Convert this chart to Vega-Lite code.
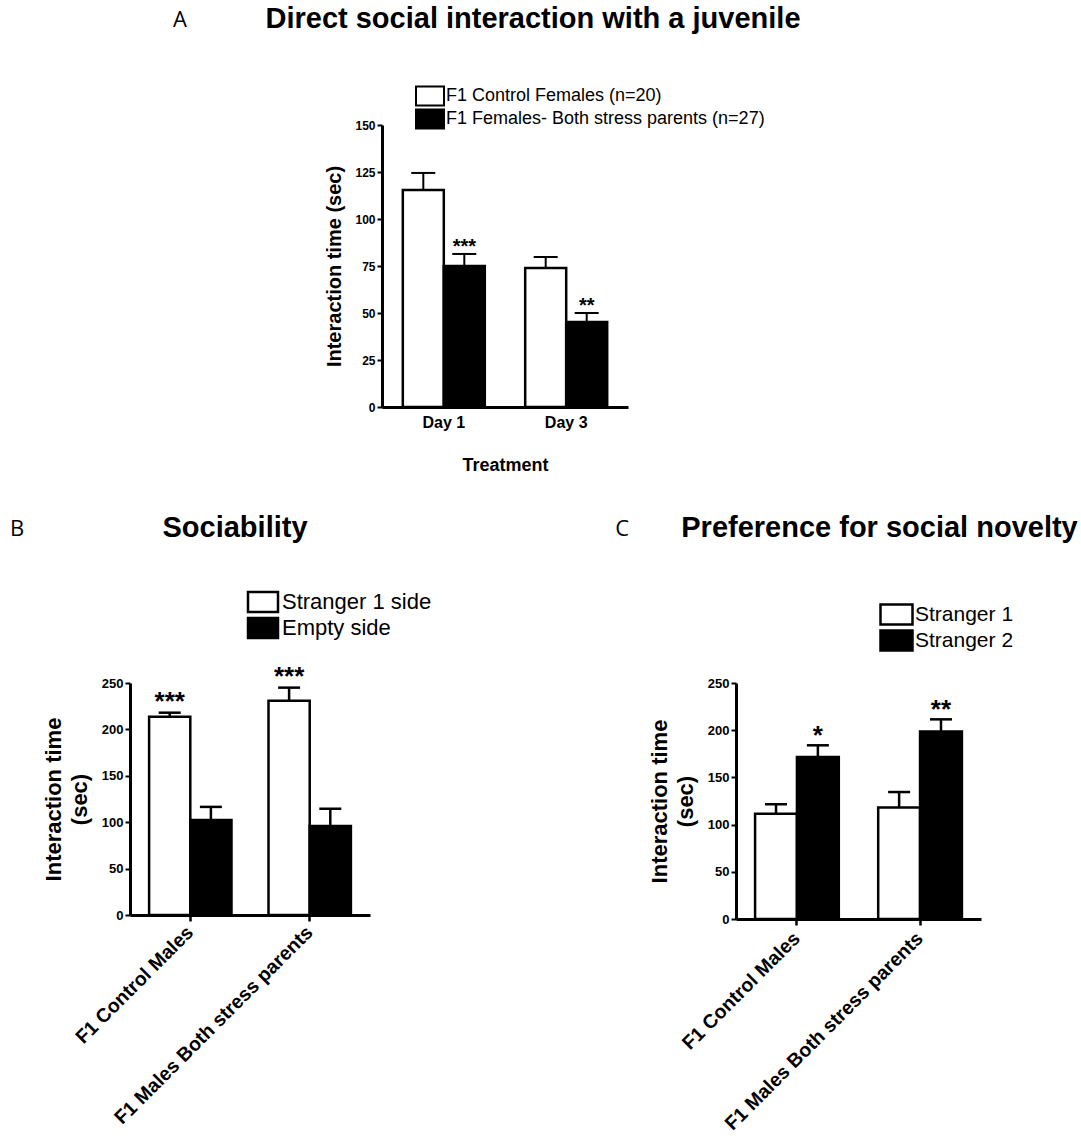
{
  "$schema": "https://vega.github.io/schema/vega-lite/v6.json",
  "padding": {"left": 10, "top": 5, "right": 0, "bottom": 0},
  "background": "white",
  "config": {
    "view": {"stroke": null},
    "font": "Liberation Sans",
    "axis": {"domainColor": "black", "tickColor": "black", "labelColor": "black", "titleColor": "black", "grid": false, "domainWidth": 3, "tickWidth": 2, "labelFontWeight": "bold", "titleFontWeight": "bold"},
    "legend": {"labelColor": "black", "labelFont": "Liberation Sans"},
    "title": {"color": "black"}
  },
  "datasets": {
    "A": [
      {"day": "Day 1", "grp": "F1 Control Females (n=20)", "mean": 115.4, "upper": 124.5, "sig": ""},
      {"day": "Day 1", "grp": "F1 Females- Both stress parents (n=27)", "mean": 75, "upper": 81.4, "sig": "***"},
      {"day": "Day 3", "grp": "F1 Control Females (n=20)", "mean": 74, "upper": 79.8, "sig": ""},
      {"day": "Day 3", "grp": "F1 Females- Both stress parents (n=27)", "mean": 45.2, "upper": 50, "sig": "**"}
    ],
    "B": [
      {"group": "F1 Control Males", "side": "Stranger 1 side", "mean": 213.5, "upper": 218, "sig": "***"},
      {"group": "F1 Control Males", "side": "Empty side", "mean": 102.5, "upper": 116.5, "sig": ""},
      {"group": "F1 Males Both stress parents", "side": "Stranger 1 side", "mean": 231, "upper": 245, "sig": "***"},
      {"group": "F1 Males Both stress parents", "side": "Empty side", "mean": 96, "upper": 114.5, "sig": ""}
    ],
    "C": [
      {"group": "F1 Control Males", "stranger": "Stranger 1", "mean": 111.6, "upper": 121.5, "sig": ""},
      {"group": "F1 Control Males", "stranger": "Stranger 2", "mean": 171.5, "upper": 184, "sig": "*"},
      {"group": "F1 Males Both stress parents", "stranger": "Stranger 1", "mean": 118, "upper": 134.5, "sig": ""},
      {"group": "F1 Males Both stress parents", "stranger": "Stranger 2", "mean": 198.5, "upper": 211.5, "sig": "**"}
    ]
  },
  "spacing": 40,
  "resolve": {"scale": {"color": "independent", "xOffset": "independent"}, "legend": {"color": "independent"}},
  "vconcat": [
    {
      "spacing": 0,
      "resolve": {"scale": {"color": "independent", "xOffset": "independent"}, "legend": {"color": "independent"}},
      "hconcat": [
        {
          "width": 255, "height": 1,
          "title": {"text": "A", "anchor": "end", "frame": "group", "dx": -78, "font": "Open Sans", "fontSize": 22, "fontWeight": "normal", "offset": 88},
          "data": {"values": [{}]},
          "mark": {"type": "text"},
          "encoding": {"text": {"value": ""}}
        },
        {
          "width": 246, "height": 282,
          "title": {"text": "Direct social interaction with a juvenile", "fontSize": 29, "fontWeight": "bold", "font": "Liberation Sans", "anchor": "middle", "frame": "group", "dx": 28, "offset": 53},
          "data": {"name": "A"},
          "encoding": {
            "x": {"field": "day", "type": "nominal", "sort": ["Day 1", "Day 3"], "scale": {"paddingInner": 0.33, "paddingOuter": 0.17},
                  "axis": {"title": "Treatment", "labelAngle": 0, "ticks": false, "labelFontSize": 16, "titleFontSize": 18, "labelPadding": 7, "titlePadding": 26}},
            "xOffset": {"field": "grp", "type": "nominal", "sort": ["F1 Control Females (n=20)", "F1 Females- Both stress parents (n=27)"], "scale": {"paddingInner": 0, "paddingOuter": 0}},
            "y": {"field": "mean", "type": "quantitative", "scale": {"domain": [0, 150], "nice": false},
                  "axis": {"title": "Interaction time (sec)", "values": [0, 25, 50, 75, 100, 125, 150], "titleFontSize": 20, "labelFontSize": 12, "tickSize": 5, "titlePadding": 10}}
          },
          "layer": [
            {
              "mark": {"type": "bar", "stroke": "black", "strokeWidth": 2.5},
              "encoding": {
                "color": {"field": "grp", "type": "nominal", "scale": {"domain": ["F1 Control Females (n=20)", "F1 Females- Both stress parents (n=27)"], "range": ["white", "black"]},
                  "legend": {"title": null, "orient": "none", "legendX": 39, "legendY": -38, "labelFontSize": 18, "symbolType": "M-2.8,-1.9H2.8V1.9H-2.8Z", "symbolSize": 100, "symbolStrokeColor": "black", "symbolStrokeWidth": 2, "rowPadding": -6, "labelOffset": 7, "labelLimit": 0}}
              }
            },
            {"mark": {"type": "rule", "strokeWidth": 2, "color": "black"}, "encoding": {"y2": {"field": "upper"}}},
            {"mark": {"type": "tick", "orient": "horizontal", "size": 24, "thickness": 2, "color": "black", "opacity": 1}, "encoding": {"y": {"field": "upper", "type": "quantitative"}}},
            {"mark": {"type": "text", "baseline": "alphabetic", "fontSize": 20, "fontWeight": "bold", "color": "black", "dy": -1}, "encoding": {"y": {"field": "upper", "type": "quantitative"}, "text": {"field": "sig"}}}
          ]
        }
      ]
    },
    {
      "spacing": 0,
      "resolve": {"scale": {"color": "independent", "xOffset": "independent"}, "legend": {"color": "independent"}},
      "hconcat": [
        {
          "width": 32, "height": 1,
          "title": {"text": "B", "anchor": "start", "frame": "group", "font": "Open Sans", "fontSize": 22, "fontWeight": "normal", "offset": 137},
          "data": {"values": [{}]},
          "mark": {"type": "text"},
          "encoding": {"text": {"value": ""}}
        },
        {
          "width": 240, "height": 232,
          "title": {"text": "Sociability", "fontSize": 29, "fontWeight": "bold", "font": "Liberation Sans", "anchor": "middle", "frame": "group", "dx": -15, "offset": 48},
          "data": {"name": "B"},
          "encoding": {
            "x": {"field": "group", "type": "nominal", "sort": ["F1 Control Males", "F1 Males Both stress parents"], "scale": {"paddingInner": 0.31, "paddingOuter": 0.16},
                  "axis": {"title": null, "labelAngle": -45, "labelAlign": "right", "labelBaseline": "middle", "labelFontSize": 19.5, "tickSize": 6, "tickWidth": 2.5, "labelPadding": 8, "labelLimit": 0}},
            "xOffset": {"field": "side", "type": "nominal", "sort": ["Stranger 1 side", "Empty side"], "scale": {"paddingInner": 0, "paddingOuter": 0}},
            "y": {"field": "mean", "type": "quantitative", "scale": {"domain": [0, 250], "nice": false},
                  "axis": {"title": ["Interaction time", "(sec)"], "values": [0, 50, 100, 150, 200, 250], "titleFontSize": 22, "titleLineHeight": 26, "labelFontSize": 13, "tickSize": 5, "titlePadding": 10}}
          },
          "layer": [
            {
              "mark": {"type": "bar", "stroke": "black", "strokeWidth": 2.5},
              "encoding": {
                "color": {"field": "side", "type": "nominal", "scale": {"domain": ["Stranger 1 side", "Empty side"], "range": ["white", "black"]},
                  "legend": {"title": null, "orient": "none", "legendX": 122, "legendY": -92, "labelFontSize": 22, "symbolType": "M-3,-2H3V2H-3Z", "symbolSize": 100, "symbolStrokeColor": "black", "symbolStrokeWidth": 2.5, "rowPadding": -6, "labelOffset": 8, "labelLimit": 0}}
              }
            },
            {"mark": {"type": "rule", "strokeWidth": 2.5, "color": "black"}, "encoding": {"y2": {"field": "upper"}}},
            {"mark": {"type": "tick", "orient": "horizontal", "size": 22, "thickness": 2.5, "color": "black", "opacity": 1}, "encoding": {"y": {"field": "upper", "type": "quantitative"}}},
            {"mark": {"type": "text", "baseline": "alphabetic", "fontSize": 26, "fontWeight": "bold", "color": "black", "dy": -3}, "encoding": {"y": {"field": "upper", "type": "quantitative"}, "text": {"field": "sig"}}}
          ]
        },
        {
          "width": 216, "height": 1,
          "title": {"text": "C", "anchor": "end", "frame": "group", "dx": -19, "font": "Open Sans", "fontSize": 22, "fontWeight": "normal", "offset": 137},
          "data": {"values": [{}]},
          "mark": {"type": "text"},
          "encoding": {"text": {"value": ""}}
        },
        {
          "width": 245, "height": 236,
          "title": {"text": "Preference for social novelty", "fontSize": 29, "fontWeight": "bold", "font": "Liberation Sans", "anchor": "middle", "frame": "group", "dx": 21, "offset": 61},
          "data": {"name": "C"},
          "encoding": {
            "x": {"field": "group", "type": "nominal", "sort": ["F1 Control Males", "F1 Males Both stress parents"], "scale": {"paddingInner": 0.32, "paddingOuter": 0.155},
                  "axis": {"title": null, "labelAngle": -45, "labelAlign": "right", "labelBaseline": "middle", "labelFontSize": 19.5, "tickSize": 6, "tickWidth": 2.5, "labelPadding": 10, "labelLimit": 0}},
            "xOffset": {"field": "stranger", "type": "nominal", "sort": ["Stranger 1", "Stranger 2"], "scale": {"paddingInner": 0, "paddingOuter": 0}},
            "y": {"field": "mean", "type": "quantitative", "scale": {"domain": [0, 250], "nice": false},
                  "axis": {"title": ["Interaction time", "(sec)"], "values": [0, 50, 100, 150, 200, 250], "titleFontSize": 22, "titleLineHeight": 26, "labelFontSize": 13, "tickSize": 5, "titlePadding": 10}}
          },
          "layer": [
            {
              "mark": {"type": "bar", "stroke": "black", "strokeWidth": 2.5},
              "encoding": {
                "color": {"field": "stranger", "type": "nominal", "scale": {"domain": ["Stranger 1", "Stranger 2"], "range": ["white", "black"]},
                  "legend": {"title": null, "orient": "none", "legendX": 150, "legendY": -79, "labelFontSize": 21, "symbolType": "M-3.2,-2H3.2V2H-3.2Z", "symbolSize": 100, "symbolStrokeColor": "black", "symbolStrokeWidth": 2.5, "rowPadding": -6, "labelOffset": 8, "labelLimit": 0}}
              }
            },
            {"mark": {"type": "rule", "strokeWidth": 2.5, "color": "black"}, "encoding": {"y2": {"field": "upper"}}},
            {"mark": {"type": "tick", "orient": "horizontal", "size": 22, "thickness": 2.5, "color": "black", "opacity": 1}, "encoding": {"y": {"field": "upper", "type": "quantitative"}}},
            {"mark": {"type": "text", "baseline": "alphabetic", "fontSize": 26, "fontWeight": "bold", "color": "black", "dy": -1}, "encoding": {"y": {"field": "upper", "type": "quantitative"}, "text": {"field": "sig"}}}
          ]
        }
      ]
    }
  ]
}
